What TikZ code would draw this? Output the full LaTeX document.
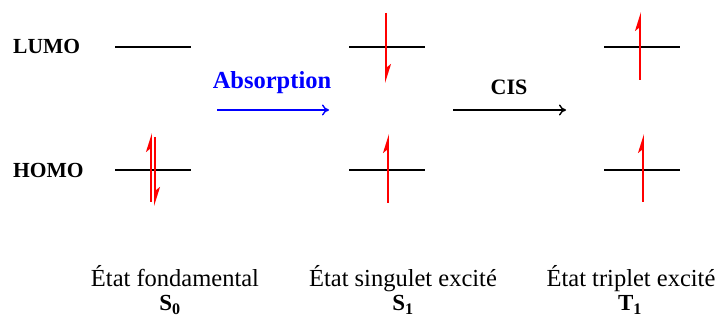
\documentclass[tikz,border=0pt]{standalone}
\usepackage{fontspec}
\setmainfont{Liberation Serif}
\usetikzlibrary{arrows.meta}
\definecolor{absblue}{RGB}{0,0,255}
\definecolor{spinred}{RGB}{255,0,0}
\begin{document}
\begin{tikzpicture}[x=1pt,y=-1pt,
  level/.style={line width=2.8pt,black},
  spin/.style={line width=1.9pt,spinred,-{Stealth[harpoon,length=16pt,width=10pt,inset=4pt]}},
  orb/.style={font=\fontsize{21.5}{24}\selectfont\bfseries,anchor=west,inner sep=0pt},
  state/.style={font=\fontsize{24.5}{28}\selectfont,anchor=base,inner sep=0pt},
  sym/.style={font=\fontsize{23}{26}\selectfont\bfseries,anchor=base,inner sep=0pt},
  proc/.style={line width=1.4pt,-{To[length=7pt,width=11pt]}}
]
\useasboundingbox (0,0) rectangle (721,320);
% orbital labels
\node[orb] (lumo) at (13,46) {LUMO};
\node[orb] (homo) at (13,170) {HOMO};
% energy levels
\coordinate (g1a) at (115,47);  \coordinate (g1b) at (191,47);
\coordinate (g0a) at (115,170); \coordinate (g0b) at (191,170);
\coordinate (s1a) at (349,47);  \coordinate (s1b) at (425,47);
\coordinate (s0a) at (349,170); \coordinate (s0b) at (425,170);
\coordinate (t1a) at (604,47);  \coordinate (t1b) at (680,47);
\coordinate (t0a) at (604,170); \coordinate (t0b) at (680,170);
\draw[level] (g1a) -- (g1b);
\draw[level] (g0a) -- (g0b);
\draw[level] (s1a) -- (s1b);
\draw[level] (s0a) -- (s0b);
\draw[level] (t1a) -- (t1b);
\draw[level] (t0a) -- (t0b);
% spins ground state
\coordinate (gu0) at (151,202); \coordinate (gu1) at (151,133);
\coordinate (gd0) at (155,137); \coordinate (gd1) at (155,206);
\draw[spin] (gu0) -- (gu1);
\draw[spin] (gd0) -- (gd1);
% singlet
\coordinate (sd0) at (386,13); \coordinate (sd1) at (386,83);
\coordinate (su0) at (388,203); \coordinate (su1) at (388,134);
\draw[spin] (sd0) -- (sd1);
\draw[spin] (su0) -- (su1);
% triplet
\coordinate (tu0) at (640,80); \coordinate (tu1) at (640,12);
\coordinate (tv0) at (643,202); \coordinate (tv1) at (643,134);
\draw[spin] (tu0) -- (tu1);
\draw[spin] (tv0) -- (tv1);
% process arrows
\node[font=\fontsize{24.5}{28}\selectfont\bfseries,text=absblue,inner sep=0pt] (abs) at (272,83) {Absorption};
\coordinate (a0) at (217,110); \coordinate (a1) at (329,110);
\draw[proc,absblue] (a0) -- (a1);
\node[font=\fontsize{22}{24}\selectfont\bfseries,inner sep=0pt] (cis) at (509,87) {CIS};
\coordinate (c0) at (453,110); \coordinate (c1) at (566,110);
\draw[proc,black] (c0) -- (c1);
% state labels
\node[state] (e0) at (175,287) {État fondamental};
\node[state] (e1) at (403,287) {État singulet excité};
\node[state] (e2) at (631,287) {État triplet excité};
\node[sym] (n0) at (170,311) {S\textsubscript{0}};
\node[sym] (n1) at (403,311) {S\textsubscript{1}};
\node[sym] (n2) at (630,311) {T\textsubscript{1}};
\end{tikzpicture}
\end{document}
